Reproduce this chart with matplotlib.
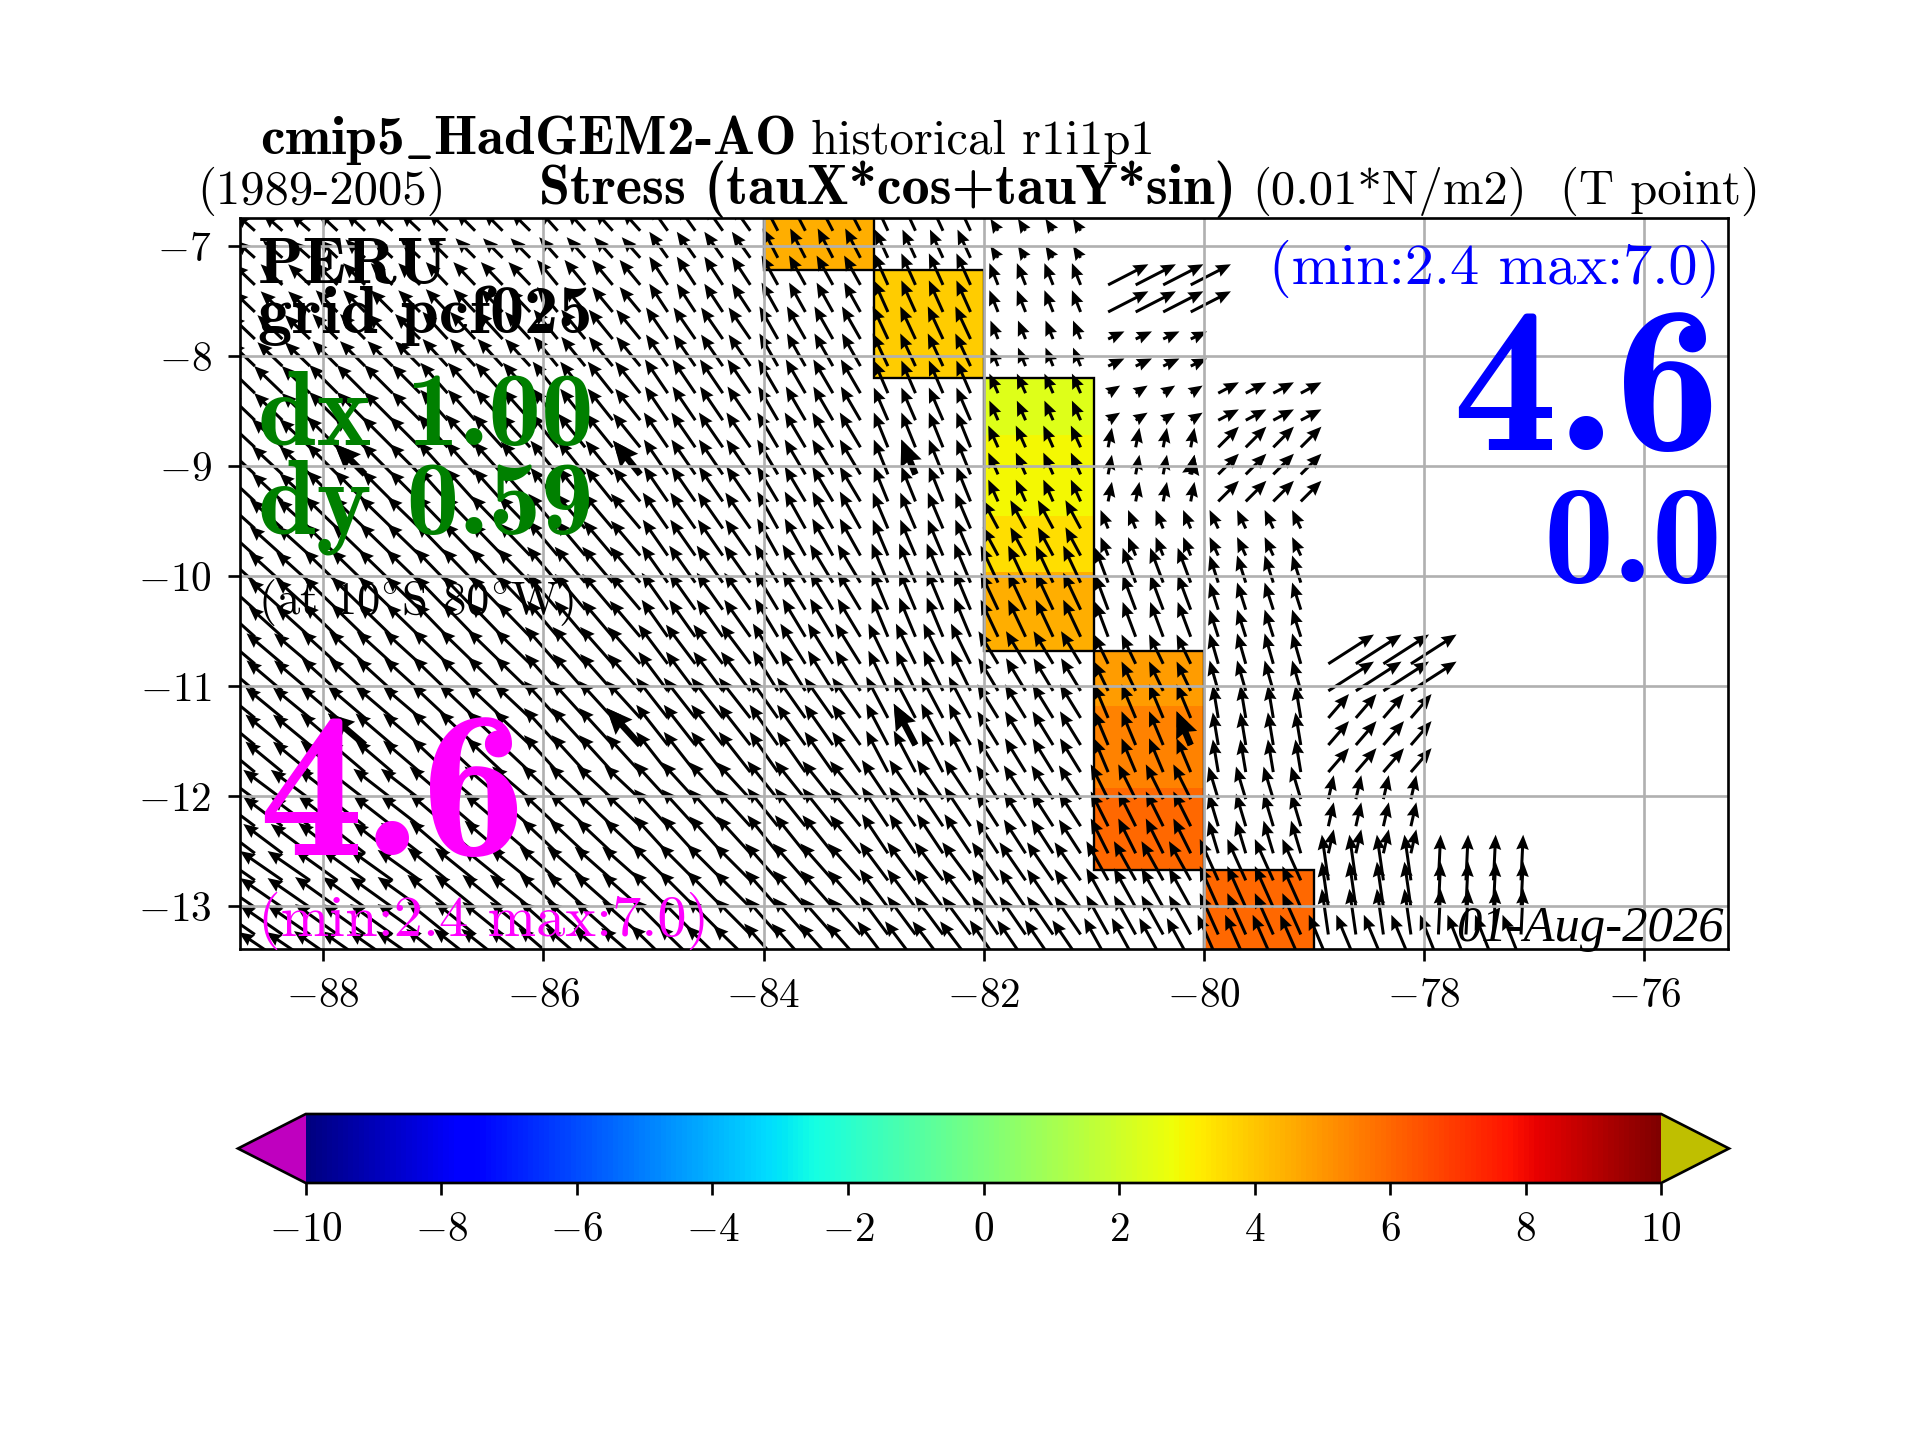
# -*- coding: utf-8 -*-
import numpy as np
import matplotlib
matplotlib.use('Agg')
import matplotlib.pyplot as plt
from matplotlib.patches import Rectangle

plt.rcParams['font.family'] = 'cmr10'
plt.rcParams['mathtext.fontset'] = 'cm'
plt.rcParams['axes.formatter.use_mathtext'] = True
plt.rcParams['axes.unicode_minus'] = True

nan = float('nan')

# data blocks: 1 degree wide, uneven in latitude
lon_edges = [-89, -88, -87, -86, -85, -84, -83, -82, -81, -80, -79, -78, -77]
lat_edges = [-6.6, -7.22, -7.72, -8.2, -8.72, -9.45, -9.96, -10.68, -11.18, -11.93, -12.67, -13.4, -13.7]

# stress components read per block (one line per latitude band, west to east)
tau_x = [
    [-1.8, -1.8, -1.8, -1.7, -1.7, -1.4, -1.2, -0.7, nan, nan, nan, nan],
    [-2.0, -2.0, -2.0, -1.9, -1.7, -1.5, -1.3, -0.8, 3.7, nan, nan, nan],
    [-2.3, -2.3, -2.3, -2.2, -2.0, -1.7, -1.4, -0.7, 1.5, nan, nan, nan],
    [-2.6, -2.6, -2.5, -2.3, -2.1, -1.8, -1.3, -0.8, 1.1, 1.9, nan, nan],
    [-2.8, -2.8, -2.7, -2.5, -2.2, -1.9, -1.3, -0.9, 0.35, 1.9, nan, nan],
    [-3.0, -3.0, -2.9, -2.7, -2.3, -1.9, -1.4, -1.4, -0.7, -0.8, nan, nan],
    [-3.1, -3.1, -3.0, -2.8, -2.4, -2.1, -1.5, -1.6, -1.2, -0.8, nan, nan],
    [-3.3, -3.3, -3.2, -3.0, -2.7, -2.3, -1.8, -1.8, -1.3, -0.8, 4.2, nan],
    [-3.4, -3.4, -3.3, -3.1, -2.9, -2.6, -2.0, -1.9, -1.3, -0.5, 1.9, nan],
    [-3.6, -3.6, -3.5, -3.3, -3.1, -2.8, -2.4, -2.0, -1.6, -0.9, 0.5, nan],
    [-3.9, -3.9, -3.7, -3.5, -3.3, -3.0, -2.6, -2.4, -2.0, -1.7, -0.6, 0.2],
    [-4.0, -4.0, -3.8, -3.6, -3.4, -3.1, -2.8, -2.6, -2.2, -1.9, -1.8, -1.7],
]
tau_y = [
    [1.6, 1.7, 1.8, 1.9, 2.4, 2.7, 2.6, 1.1, nan, nan, nan, nan],
    [1.9, 2.0, 2.1, 2.3, 2.6, 2.7, 2.9, 2.0, 1.9, nan, nan, nan],
    [2.2, 2.3, 2.5, 2.7, 2.9, 3.0, 3.0, 1.7, 0.7, nan, nan, nan],
    [2.5, 2.6, 2.8, 2.9, 3.1, 3.1, 3.0, 1.8, 0.7, 1.0, nan, nan],
    [2.6, 2.8, 3.0, 3.1, 3.2, 3.2, 3.2, 2.0, 1.8, 1.9, nan, nan],
    [2.7, 2.9, 3.0, 3.2, 3.3, 3.4, 3.3, 2.6, 1.7, 1.7, nan, nan],
    [2.8, 3.0, 3.1, 3.3, 3.4, 3.5, 3.6, 3.4, 3.2, 2.5, nan, nan],
    [2.8, 3.0, 3.1, 3.4, 3.6, 3.7, 3.7, 3.0, 2.7, 2.8, 2.7, nan],
    [2.8, 2.9, 3.1, 3.4, 3.7, 3.7, 3.8, 3.1, 3.1, 3.0, 2.2, nan],
    [2.7, 2.8, 3.0, 3.1, 3.4, 3.5, 3.6, 3.1, 3.2, 3.0, 2.2, nan],
    [2.7, 2.8, 3.0, 3.1, 3.3, 3.4, 3.5, 3.5, 3.6, 3.8, 4.2, 4.2],
    [2.7, 2.8, 3.0, 3.1, 3.3, 3.5, 3.7, 3.8, 4.0, 4.3, 4.3, 4.3],
]

# coloured blocks: (lon column, lat band, value)
cell_col = [5, 6, 6, 7, 7, 7, 7, 8, 8, 8, 9, 9]
cell_row = [0, 1, 2, 3, 4, 5, 6, 7, 8, 9, 10, 11]
cell_val = [4.5, 3.9, 3.9, 2.4, 2.9, 3.5, 4.5, 4.9, 5.4, 6.0, 6.0, 6.0]

# runs of bands that get one black outline: column, first band, last band
box_col = [5, 6, 7, 8, 9]
box_first = [0, 1, 3, 7, 10]
box_last = [0, 2, 6, 9, 11]

xticks = [-88, -86, -84, -82, -80, -78, -76]
yticks = [-13, -12, -11, -10, -9, -8, -7]
cbar_ticks = [-10, -8, -6, -4, -2, 0, 2, 4, 6, 8, 10]

fig = plt.figure(figsize=(8, 6), dpi=240)
ax = fig.add_axes([0.125, 1 - 949 / 1440, 0.775, 731 / 1440])

cmap = plt.get_cmap('jet').copy()
cmap.set_under('m')
cmap.set_over('y')
norm = matplotlib.colors.Normalize(-10, 10)

grid_val = np.full((len(lat_edges) - 1, len(lon_edges) - 1), nan)
for c, r, v in zip(cell_col, cell_row, cell_val):
    grid_val[r, c] = v
ax.pcolormesh(lon_edges, lat_edges, np.ma.masked_invalid(grid_val), cmap=cmap, norm=norm)

for c, r0, r1 in zip(box_col, box_first, box_last):
    ax.add_patch(Rectangle((lon_edges[c], lat_edges[r1 + 1]), 1, lat_edges[r0] - lat_edges[r1 + 1],
                           fill=False, edgecolor='k', linewidth=0.7))

# arrow points: four per block in longitude, 0.246 degree apart in latitude
lons = -88.87 + 0.25 * np.arange(48)
lats = -6.862 - 0.246 * np.arange(28)
lon2, lat2 = np.meshgrid(lons, lats)
col = np.floor(lon2 + 89).astype(int)
row = np.searchsorted(-np.array(lat_edges), -lat2) - 1
u = np.ma.masked_invalid(np.array(tau_x)[row, col])
v = np.ma.masked_invalid(np.array(tau_y)[row, col])

ax.quiver(lon2, lat2, u, v, angles='uv', scale_units='dots', scale=0.092, units='dots',
          width=3.0, headwidth=4.2, headlength=5.0, headaxislength=4.5, color='k')
# every tenth point drawn heavier
ax.quiver(lon2[9::10, 5::10], lat2[9::10, 5::10], u[9::10, 5::10], v[9::10, 5::10],
          angles='uv', scale_units='dots', scale=0.092, units='dots',
          width=6.5, headwidth=3.5, headlength=4.0, headaxislength=3.6, color='k')

ax.set_xlim(-88.755, -75.24)
ax.set_ylim(-13.39, -6.746)
ax.set_xticks(xticks)
ax.set_yticks(yticks)
ax.tick_params(labelsize=12.4, pad=5)
ax.grid(True)

BOLD = 'cmb10'
tr = ax.transAxes
ax.text(0.012, 0.911, 'PERU', transform=tr, fontsize=20, family=BOLD)
ax.text(0.012, 0.843, 'grid pcf025', transform=tr, fontsize=20.5, family=BOLD)
ax.text(0.012, 0.689, 'dx 1.00', transform=tr, fontsize=31.5, family=BOLD, color='g')
ax.text(0.012, 0.568, 'dy 0.59', transform=tr, fontsize=31.5, family=BOLD, color='g')
ax.text(0.012, 0.458, r'(at 10$^{\circ}$S 80$^{\circ}$W)', transform=tr, fontsize=14)
ax.text(0.012, 0.128, '4.6', transform=tr, fontsize=63, family=BOLD, color='#ff00ff')
ax.text(0.012, 0.0178, '(min:2.4 max:7.0)', transform=tr, fontsize=17.5, color='#ff00ff')
ax.text(0.995, 0.9097, '(min:2.4 max:7.0)', transform=tr, fontsize=17.5, color='b', ha='right')
ax.text(0.995, 0.683, '4.6', transform=tr, fontsize=63, family=BOLD, color='b', ha='right')
ax.text(0.9965, 0.502, '0.0', transform=tr, fontsize=42, family=BOLD, color='b', ha='right')
ax.text(0.9974, 0.011, '01-Aug-2026', transform=tr, fontsize=15.2, family='Liberation Serif',
        style='italic', ha='right')

# titles above the axes
fig.text(260.5 / 1920, 1 - 154 / 1440, r'cmip5$\_$HadGEM2-AO', fontsize=16.6, family=BOLD)
fig.text(811 / 1920, 1 - 154 / 1440, 'historical r1i1p1', fontsize=14.6)
fig.text(197 / 1920, 1 - 204 / 1440, '(1989-2005)', fontsize=14.6)
fig.text(539 / 1920, 1 - 204 / 1440, 'Stress (tauX*cos+tauY*sin)', fontsize=16.8, family=BOLD)
fig.text(1252 / 1920, 1 - 204 / 1440, '(0.01*N/m2)', fontsize=14.6)
fig.text(1560 / 1920, 1 - 204 / 1440, '(T point)', fontsize=14.6)

cax = fig.add_axes([238 / 1920, 1 - 1183 / 1440, 1491 / 1920, 69 / 1440])
sm = matplotlib.cm.ScalarMappable(norm=norm, cmap=cmap)
cb = fig.colorbar(sm, cax=cax, orientation='horizontal', extend='both', ticks=cbar_ticks)
cb.ax.tick_params(labelsize=12.4, pad=5)

plt.savefig('out.png')
